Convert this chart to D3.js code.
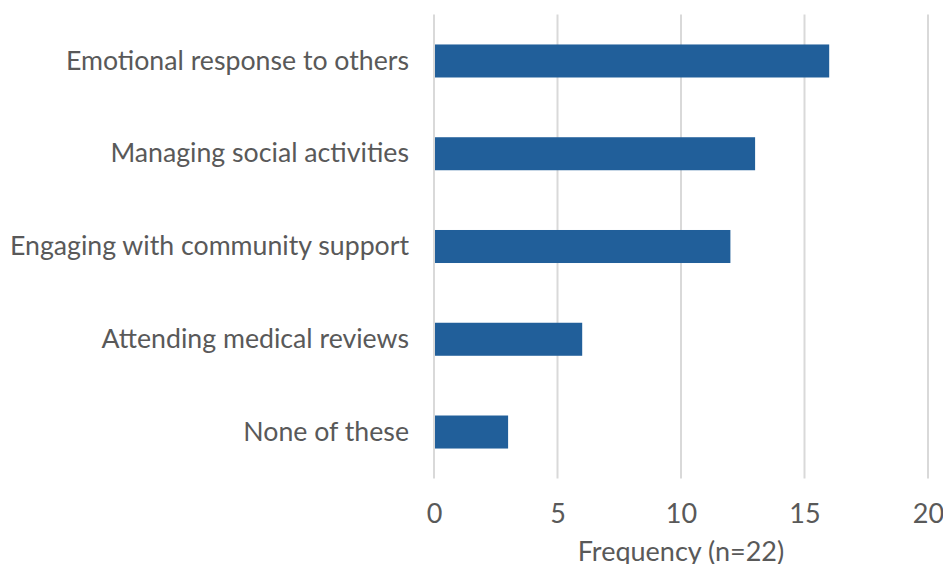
<!DOCTYPE html>
<html>
<head>
<meta charset="utf-8">
<script src="https://cdn.jsdelivr.net/npm/d3@7"></script>
<style>
  html, body { margin: 0; padding: 0; background: #fff; }
  svg { display: block; font-family: Lato, "Open Sans", sans-serif; }
</style>
</head>
<body>
<svg id="chart" width="943" height="564"></svg>
<script>
// Support needs reported by respondents
const categories = [
  "Emotional response to others",
  "Managing social activities",
  "Engaging with community support",
  "Attending medical reviews",
  "None of these"
];
const frequencies = [16, 13, 12, 6, 3];
const xTicks = [0, 5, 10, 15, 20];
const xTitle = "Frequency (n=22)";

const svg = d3.select("#chart");
const margin = { left: 434, right: 15, top: 14.6, bottom: 85.6 };
const W = 943, H = 564;
const fontSize = 27;
const labelSize = 26.7;

const x = d3.scaleLinear().domain([0, 20]).range([margin.left, margin.left + 494]);
const y = d3.scaleBand().domain(categories)
  .range([margin.top, H - margin.bottom])
  .paddingInner(0.644).paddingOuter(0.322);

const textColor = "#595959";

// vertical gridlines
svg.append("g").selectAll("line").data(xTicks).join("line")
  .attr("x1", d => x(d)).attr("x2", d => x(d))
  .attr("y1", margin.top).attr("y2", H - margin.bottom)
  .attr("stroke", "#d9d9d9").attr("stroke-width", 2);

// bars
svg.append("g").selectAll("rect").data(categories).join("rect")
  .attr("x", x(0) + 1)
  .attr("y", d => y(d))
  .attr("width", (d, i) => x(frequencies[i]) - x(0) - 1)
  .attr("height", y.bandwidth())
  .attr("fill", "#215f9a");

// category labels
const yAxis = d3.axisLeft(y).tickSize(0).tickPadding(25);
const gy = svg.append("g").attr("transform", `translate(${x(0)},0)`).call(yAxis);
gy.select(".domain").remove();
gy.selectAll("text").attr("font-size", labelSize).attr("fill", textColor)
  .attr("font-family", "Lato, sans-serif");

// value axis
const xAxis = d3.axisBottom(x).tickValues(xTicks).tickSize(0).tickPadding(0);
const gx = svg.append("g").attr("transform", "translate(0,504)").call(xAxis);
gx.select(".domain").remove();
gx.selectAll("text").attr("font-size", fontSize).attr("fill", textColor)
  .attr("font-family", "Lato, sans-serif");

// axis title
svg.append("text")
  .attr("x", (x(0) + x(20)) / 2)
  .attr("y", 561)
  .attr("text-anchor", "middle")
  .attr("font-size", fontSize)
  .attr("fill", textColor)
  .text(xTitle);
</script>
</body>
</html>
